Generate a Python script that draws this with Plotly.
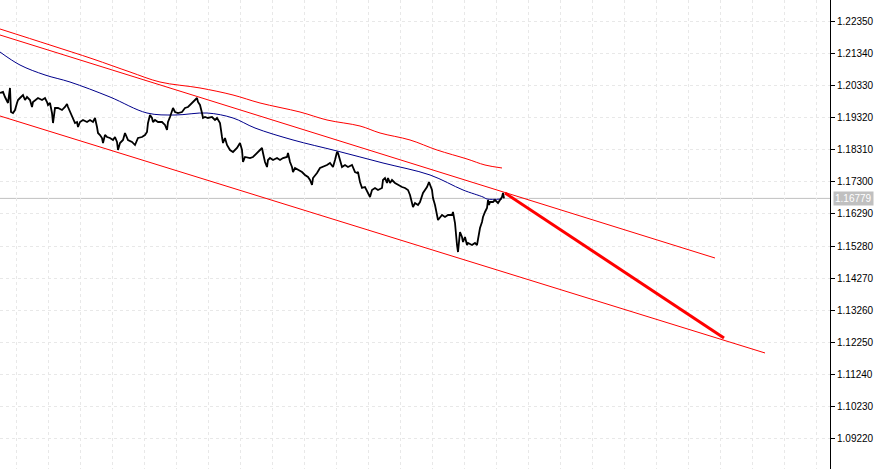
import plotly.graph_objects as go

# ---- price series (bar index, close) ----
bar_idx = [0,3,5,8,10,11,13,15,17,18,20,23,25,27,30,32,33,35,38,42,45,47,48,50,52,53,55,58,62,65,67,68,70,72,73,75,77,78,80,83,87,90,93,95,97,98,100,102,103,105,107,110,113,115,117,118,120,123,
           125,128,132,135,138,142,145,147,148,150,152,153,155,158,162,165,167,168,170,172,173,175,178,182,185,188,192,195,197,198,200,202,203,205,208,212,215,217,220,222,223,225,227,230,233,237,240,242,243,245,248,
           250,253,257,260,262,263,265,267,268,270,273,277,280,283,287,288,290,292,293,295,298,302,305,308,310,312,313,317,320,323,327,330,333,335,337,338,340,342,345,348,352,355,357,358,360,362,365,368,370,372,
           375,378,382,383,385,387,388,390,392,395,398,402,405,408,410,412,413,415,418,420,422,423,427,429,432,433,435,437,438,442,445,448,452,453,455,457,458,460,462,463,465,467,468,472,475,477,478,480,482,483,485,487,488,489,490,493,495,498,500,502,503,504]
close = [1.20094,1.20126,1.19968,1.19780,1.20252,1.19496,1.19465,1.19559,1.19780,1.19874,1.19937,1.20031,1.19874,1.19968,1.19874,1.19654,1.19811,1.19874,1.19937,1.19874,1.19937,1.19811,1.19717,1.19780,1.19465,1.19150,1.19622,1.19622,1.19559,1.19654,1.19748,1.19654,1.19496,1.19339,1.19245,1.19150,1.19182,1.19025,1.19182,1.19245,1.19182,1.19245,1.19182,1.19308,1.19025,1.18836,1.18773,1.18679,1.18521,1.18773,1.18710,1.18679,1.18616,1.18710,1.18553,1.18301,1.18521,1.18616,
         1.18836,1.18616,1.18553,1.18458,1.18679,1.18710,1.18773,1.18867,1.19150,1.19402,1.19308,1.19182,1.19245,1.19182,1.19182,1.19088,1.18930,1.19182,1.19339,1.19496,1.19622,1.19496,1.19465,1.19496,1.19622,1.19654,1.19780,1.19874,1.19937,1.19811,1.19717,1.19465,1.19308,1.19339,1.19308,1.19339,1.19245,1.19308,1.19150,1.18710,1.18521,1.18679,1.18458,1.18301,1.18238,1.18364,1.18521,1.18301,1.17924,1.18081,1.18049,
         1.18049,1.18081,1.18207,1.18301,1.18364,1.18207,1.17924,1.17766,1.17986,1.18049,1.17986,1.18049,1.17986,1.18049,1.18081,1.18207,1.17924,1.17766,1.17609,1.17735,1.17672,1.17609,1.17515,1.17452,1.17357,1.17200,1.17420,1.17577,1.17735,1.17766,1.17829,1.17892,1.17766,1.17986,1.18238,1.18207,1.17986,1.17766,1.17829,1.17766,1.17829,1.17609,1.17577,1.17609,1.17294,1.17106,1.17137,1.16948,1.16822,1.17043,
         1.17106,1.17043,1.17106,1.17357,1.17420,1.17263,1.17420,1.17263,1.17357,1.17263,1.17200,1.17137,1.17106,1.17043,1.16885,1.16634,1.16508,1.16634,1.16571,1.16665,1.16822,1.16948,1.17137,1.17294,1.17043,1.16791,1.16571,1.16162,1.16099,1.16256,1.16193,1.16256,1.16256,1.16351,1.16004,1.15312,1.15092,1.15721,1.15564,1.15407,1.15564,1.15312,1.15375,1.15312,1.15375,1.15312,1.15533,1.15847,1.16036,1.16193,1.16351,1.16476,1.16728,1.16571,1.16665,1.16665,1.16728,1.16634,1.16728,1.16822,1.16948,1.16779]

# ---- moving average (blue) ----
ma_idx = [0,20,45,70,110,147,175,207,233,255,293,337,383,430,463,483,487,502]
ma_val = [1.21384,1.20975,1.20661,1.20440,1.19968,1.19465,1.19402,1.19465,1.19308,1.18993,1.18616,1.18270,1.17892,1.17515,1.17043,1.16822,1.16760,1.16760]

# ---- upper envelope curve (red) ----
env_idx = [0,50,93,130,160,200,233,260,300,327,360,380,410,437,467,485,502]
env_val = [1.22108,1.21604,1.21164,1.20755,1.20440,1.20252,1.20031,1.19780,1.19496,1.19245,1.19056,1.18836,1.18616,1.18301,1.18018,1.17829,1.17735]

# ---- channel lines (red) ----
upper_ch_idx = [0,715]
upper_ch_val = [1.21919,1.14903]
lower_ch_idx = [0,765]
lower_ch_val = [1.19371,1.11915]

# ---- projection arrow (bold red) ----
proj_idx = [505,724]
proj_val = [1.16948,1.12387]

current_price = 1.16779
tick_vals = [1.09220,1.10230,1.11240,1.12250,1.13260,1.14270,1.15280,1.16290,1.17300,1.18310,1.19320,1.20330,1.21340,1.22350]
tick_text = ["%.5f" % v for v in tick_vals]

fig = go.Figure()
fig.add_hline(y=current_price, line=dict(color="#c0c0c0", width=1), layer="below")

fig.add_trace(go.Scatter(x=env_idx, y=env_val, mode="lines", line=dict(color="#ff0000", width=1, shape="spline")))
fig.add_trace(go.Scatter(x=upper_ch_idx, y=upper_ch_val, mode="lines", line=dict(color="#ff0000", width=1)))
fig.add_trace(go.Scatter(x=lower_ch_idx, y=lower_ch_val, mode="lines", line=dict(color="#ff0000", width=1)))
fig.add_trace(go.Scatter(x=ma_idx, y=ma_val, mode="lines", line=dict(color="#00008b", width=1, shape="spline")))
fig.add_trace(go.Scatter(x=bar_idx, y=close, mode="lines", line=dict(color="#000000", width=1.8)))
fig.add_trace(go.Scatter(x=proj_idx, y=proj_val, mode="lines", line=dict(color="#ff0000", width=3)))

fig.add_annotation(x=1, xref="paper", y=current_price, yref="y", text="1.16779",
                   showarrow=False, xanchor="left", yanchor="middle", xshift=3,
                   bgcolor="#c0c0c0", font=dict(color="#ffffff", size=10, family="Liberation Sans"),
                   borderpad=1)

fig.update_layout(
    width=884, height=469,
    margin=dict(l=0, r=54, t=0, b=0),
    paper_bgcolor="#ffffff", plot_bgcolor="#ffffff",
    showlegend=False,
    font=dict(family="Liberation Sans", size=10, color="#000000"),
)
fig.update_xaxes(range=[0, 830], showticklabels=False, ticks="", zeroline=False,
                 showgrid=True, gridcolor="#e8e8e8", griddash="3px,3px", gridwidth=1,
                 tick0=16, dtick=32, showline=False)
fig.update_yaxes(range=[1.08265, 1.2302], side="right", tickvals=tick_vals, ticktext=tick_text,
                 ticks="outside", ticklen=4, tickcolor="#000000", showline=True, linecolor="#000000",
                 linewidth=1, zeroline=False, showgrid=True, gridcolor="#e8e8e8", griddash="3px,3px",
                 automargin=False,
                 tickfont=dict(size=10, family="Liberation Sans", color="#000000"))

fig.write_html("out.html", config={"displayModeBar": False},
               post_script="document.body.style.margin='0';document.body.style.overflow='hidden';")
